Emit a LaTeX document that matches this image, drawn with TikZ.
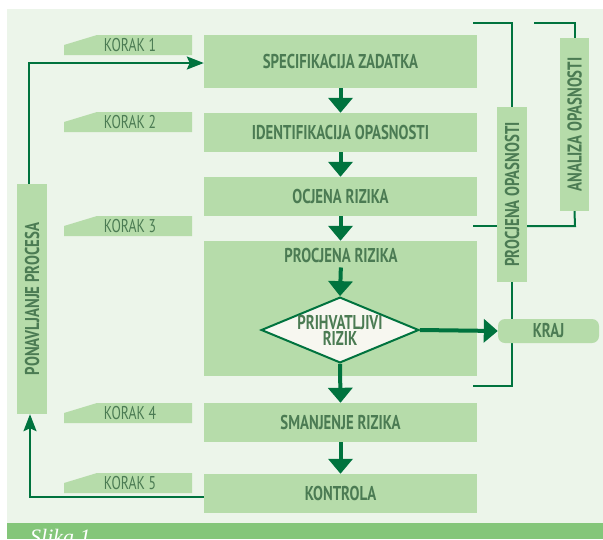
\documentclass[tikz,border=0pt]{standalone}
\usepackage{fontspec}
\setmainfont{PT Sans}
\newfontfamily\cond{PT Sans}[FakeStretch=0.74]
\newfontfamily\slikafont{Liberation Serif}
\usetikzlibrary{arrows.meta,shapes.geometric}
\definecolor{bg}{HTML}{ECF5EA}
\definecolor{boxc}{HTML}{B6DCAA}
\definecolor{txt}{HTML}{4B7B53}
\definecolor{dk}{HTML}{00733E}
\definecolor{band}{HTML}{84C67A}
\definecolor{dia}{HTML}{F7F7F0}
\begin{document}
\begin{tikzpicture}[x=1pt,y=-1pt,
  lbl/.style={text=txt,font=\cond\bfseries\fontsize{20}{16}\selectfont},
  box/.style={lbl,fill=boxc,inner sep=0pt,minimum width=273pt},
  vbox/.style={lbl,fill=boxc,inner sep=0pt,rotate=90},
  kor/.style={text=txt,font=\cond\fontsize{18.5}{18.5}\selectfont,inner sep=0pt},
  big/.style={draw=dk,line width=4pt,-{Triangle[width=24pt,length=15pt]}},
  thinarrow/.style={draw=dk,line width=2.2pt,-{Stealth[width=13pt,length=17pt,inset=3pt]}},
  bracket/.style={draw=dk,line width=2pt}]
\useasboundingbox (0,0) rectangle (603,539);
\fill[white] (0,0) rectangle (603,539);
\fill[bg] (7,9) rectangle (603,523);
\fill[band] (7,523) rectangle (603,539);
\node[anchor=base west,inner sep=0pt,text=white,font=\slikafont\itshape\fontsize{22}{22}\selectfont] (slika) at (30,544) {Slika 1};

% KORAK tabs
\foreach \n/\y in {1/35,2/112,3/216,4/403,5/473}{
  \fill[boxc] (64,\y+10) -- (97,\y) -- (192,\y) -- (192,\y+20) -- (64,\y+20) -- cycle;
  \node[kor] (k\n) at (130,\y+10) {KORAK \n};
}

% main boxes
\node[box,minimum height=53pt] (spec) at (340.5,61.5) {SPECIFIKACIJA ZADATKA};
\node[box,minimum height=39pt] (ident) at (340.5,132.5) {IDENTIFIKACIJA OPASNOSTI};
\node[box,minimum height=39pt] (ocj) at (340.5,196.5) {OCJENA RIZIKA};
\node[box,minimum height=135pt] (proc) at (340.5,308.5) {};
\node[lbl,inner sep=0pt] (ptxt) at (341,255) {PROCJENA RIZIKA};
\node[box,minimum height=39pt] (sman) at (340.5,422.5) {SMANJENJE RIZIKA};
\node[box,minimum height=39pt] (kont) at (340.5,493.5) {KONTROLA};

% decision
\node[diamond,draw=dk,line width=2pt,fill=dia,aspect=2.4,minimum width=156pt,minimum height=64pt,inner sep=0pt,lbl,align=center] (dia) at (340,330) {PRIHVATLJIVI\\RIZIK};

% vertical boxes
\node[vbox,minimum width=230pt,minimum height=30pt] (pon) at (32,299) {PONAVLJANJE PROCESA};
\node[vbox,minimum width=175pt,minimum height=30pt] (po) at (512,194.5) {PROCJENA OPASNOSTI};
\node[vbox,minimum width=173pt,minimum height=29pt] (an) at (574.5,124.5) {ANALIZA OPASNOSTI};

% brackets
\coordinate (t1) at (473,23);
\coordinate (t2) at (534,23);
\coordinate (b1) at (473,386);
\coordinate (b2) at (575,226);
\draw[bracket] (t1) -- (t1 -| po.center) -- (po.east);
\draw[bracket] (po.west) -- (b1 -| po.center) -- (b1);
\draw[bracket] (t2) -- (t2 -| an.center) -- (an.east);
\draw[bracket] (an.west) -- (b2) -- (b2 -| po.south);
\draw[bracket] (b2 -| po.north) -- (473,226);

% end node
\node[lbl,fill=boxc,rounded corners=7pt,minimum width=101pt,minimum height=24pt,inner sep=0pt] (kraj) at (548.5,331) {KRAJ};

% flow arrows
\draw[big] (spec.south) -- (ident.north);
\draw[big] (ident.south) -- (ocj.north);
\draw[big] (ocj.south) -- (proc.north);
\draw[big,shorten <=5pt] (ptxt.south) -- (dia.north);
\draw[big] (dia.south) -- (sman.north);
\draw[big] (sman.south) -- (kont.north);
\draw[draw=dk,line width=4pt,-{Triangle[width=23pt,length=14pt]}] (dia.east) -- (kraj.west);

% loop arrows
\draw[thinarrow] ([xshift=-3pt]pon.east) |- ([yshift=-1.5pt]spec.west);
\draw[thinarrow] ([yshift=-3.5pt]kont.west) -| ([xshift=-2pt]pon.west);
\end{tikzpicture}
\end{document}
